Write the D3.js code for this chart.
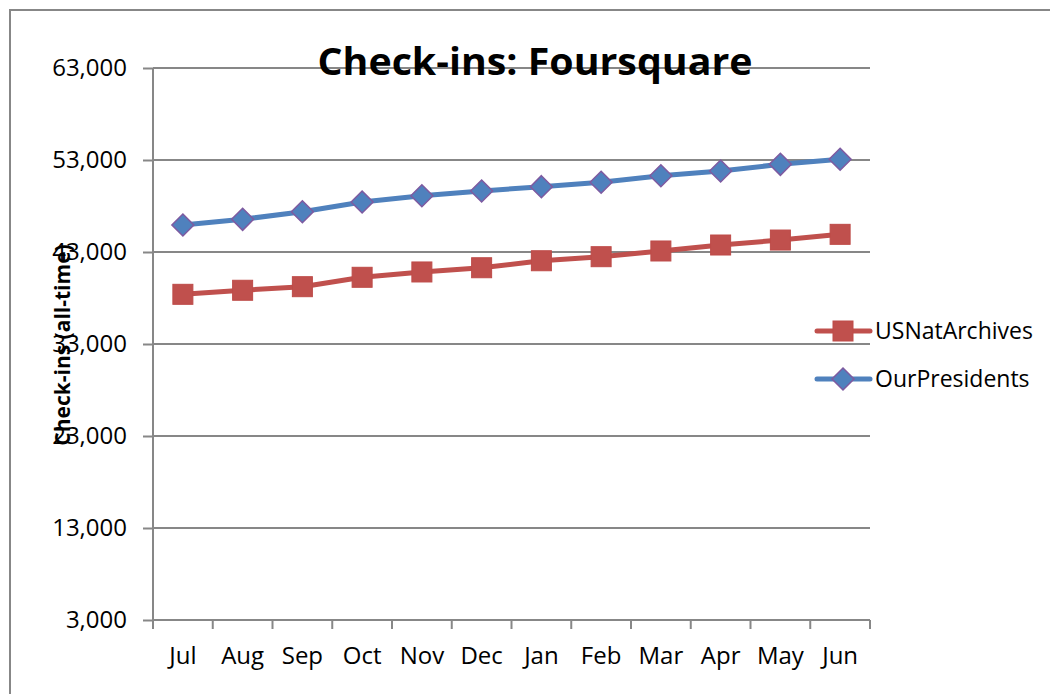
<!DOCTYPE html>
<html>
<head>
<meta charset="utf-8">
<script src="https://cdn.jsdelivr.net/npm/d3@7"></script>
<style>
  body { margin: 0; background: #fff; }
  svg text { font-family: "Open Sans", "DejaVu Sans", sans-serif; }
</style>
</head>
<body>
<div id="chart"></div>
<script>
// Check-ins chart, values
const months = ['Jul', 'Aug', 'Sep', 'Oct', 'Nov', 'Dec', 'Jan', 'Feb', 'Mar', 'Apr', 'May', 'Jun'];
const usNatArchives = [38400, 38840, 39230, 40250, 40830, 41290, 42050, 42490, 43110, 43760, 44300, 44920];
const ourPresidents = [45940, 46550, 47380, 48430, 49120, 49630, 50100, 50580, 51290, 51800, 52530, 53080];
const yTicks = [3000, 13000, 23000, 33000, 43000, 53000, 63000];
const seriesNames = ['USNatArchives', 'OurPresidents'];

const width = 1050, height = 694;
// plot area edges
const margin = {top: 68, right: 180, bottom: 74, left: 153};
const cWidth = width - margin.left - margin.right;
const cHeight = height - margin.top - margin.bottom;
const grey = '#878787';
const colors = {USNatArchives: '#C0504D', OurPresidents: '#4F81BD'};

let svg = d3.select('#chart').append('svg')
  .attr('width', width)
  .attr('height', height);

// outer chart border (only left and top edges visible)
svg.append('path')
  .attr('d', `M10,${height} L10,10 L${width},10`)
  .attr('fill', 'none')
  .attr('stroke', grey)
  .attr('stroke-width', 2);

let g = svg.append('g').attr('transform', `translate(${margin.left},${margin.top})`);

let x = d3.scaleBand().domain(months).range([0, cWidth]);
let y = d3.scaleLinear().domain([3000, 63000]).range([cHeight, 0]);

// gridlines
g.selectAll('.grid')
  .data(yTicks.slice(1))
  .enter().append('line')
  .attr('x1', 0).attr('x2', cWidth)
  .attr('y1', d => y(d)).attr('y2', d => y(d))
  .attr('stroke', grey)
  .attr('stroke-width', 2);

// y axis
let yAxis = g.append('g')
  .call(d3.axisLeft(y).tickValues(yTicks).tickFormat(d3.format(',')).tickSize(10).tickPadding(16));
yAxis.select('.domain').attr('stroke', grey).attr('stroke-width', 2).attr('d', `M0,0V${cHeight}`);
yAxis.selectAll('.tick line').attr('stroke', grey).attr('stroke-width', 2);
yAxis.selectAll('.tick text').attr('font-size', 24).attr('fill', '#000').attr('font-family', 'Open Sans');

// x axis, ticks sit on the band edges
let xAxis = g.append('g')
  .attr('transform', `translate(0,${cHeight})`)
  .call(d3.axisBottom(x).tickSize(0).tickPadding(27));
xAxis.select('.domain').attr('stroke', grey).attr('stroke-width', 2).attr('d', `M0,0H${cWidth}`);
xAxis.selectAll('.tick text').attr('font-size', 24).attr('fill', '#000').attr('font-family', 'Open Sans');
xAxis.selectAll('.edge')
  .data(months.map(m => x(m)).concat([cWidth]))
  .enter().append('line')
  .attr('x1', d => d).attr('x2', d => d)
  .attr('y1', 0).attr('y2', 9)
  .attr('stroke', grey)
  .attr('stroke-width', 2);

// lines
let line = d3.line()
  .x((d, i) => x(months[i]) + x.bandwidth() / 2)
  .y(d => y(d));

const seriesData = {USNatArchives: usNatArchives, OurPresidents: ourPresidents};

seriesNames.forEach(name => {
  g.append('path')
    .attr('d', line(seriesData[name]))
    .attr('fill', 'none')
    .attr('stroke', colors[name])
    .attr('stroke-width', 5)
    .attr('stroke-linejoin', 'round');
});

// markers
function drawMarker(sel, name) {
  if (name === 'USNatArchives') {
    sel.append('rect')
      .attr('x', -10).attr('y', -10)
      .attr('width', 20).attr('height', 20)
      .attr('fill', colors[name])
      .attr('stroke', '#BE4B48')
      .attr('stroke-width', 1);
  } else {
    sel.append('path')
      .attr('d', 'M0,-11L11,0L0,11L-11,0Z')
      .attr('fill', colors[name])
      .attr('stroke', '#7E5AA0')
      .attr('stroke-width', 1.5);
  }
}

seriesNames.forEach(name => {
  g.selectAll(`.m-${name}`)
    .data(seriesData[name])
    .enter().append('g')
    .attr('transform', (d, i) => `translate(${x(months[i]) + x.bandwidth() / 2},${y(d)})`)
    .each(function() { drawMarker(d3.select(this), name); });
});

// legend
let legend = svg.selectAll('.legend')
  .data(seriesNames)
  .enter().append('g')
  .attr('transform', (d, i) => `translate(815, ${331 + i * 48})`);

legend.append('line')
  .attr('x1', 2).attr('x2', 55)
  .attr('stroke', d => colors[d])
  .attr('stroke-width', 5)
  .attr('stroke-linecap', 'round');
legend.each(function(d) {
  let m = d3.select(this).append('g').attr('transform', 'translate(28,0)');
  drawMarker(m, d);
});
legend.append('text')
  .attr('x', 60)
  .attr('dy', '0.36em')
  .attr('font-size', 23)
  .text(d => d);

// title
svg.append('text')
  .attr('x', 535)
  .attr('y', 75)
  .attr('text-anchor', 'middle')
  .attr('font-size', 37)
  .attr('font-weight', 'bold')
  .attr('textLength', 435)
  .attr('lengthAdjust', 'spacingAndGlyphs')
  .text('Check-ins: Foursquare');

// y axis title
svg.append('text')
  .attr('transform', 'translate(70,345) rotate(-90)')
  .attr('text-anchor', 'middle')
  .attr('font-size', 21)
  .attr('font-weight', 'bold')
  .text('Check-ins (all-time)');
</script>
</body>
</html>
